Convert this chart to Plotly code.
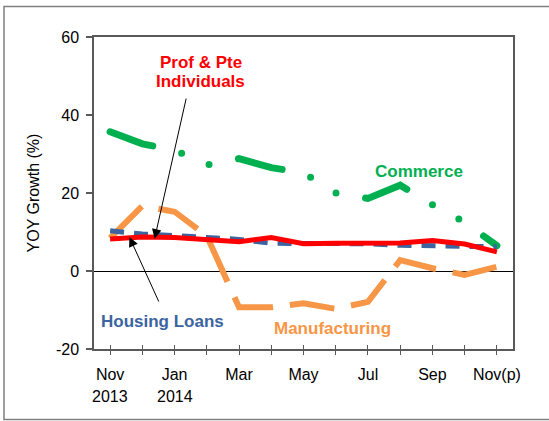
import plotly.graph_objects as go

months = ["Nov 2013", "Dec", "Jan 2014", "Feb", "Mar", "Apr", "May", "Jun", "Jul", "Aug", "Sep", "Oct", "Nov(p)"]
tick_labels = ["Nov", "", "Jan", "", "Mar", "", "May", "", "Jul", "", "Sep", "", "Nov(p)"]
year_labels = {0: "2013", 2: "2014"}
y_ticks = [-20, 0, 20, 40, 60]
y_tick_text = ["-20", "0", "20", "40", "60"]

manufacturing = [8.4, 16.7, 15.2, 9.0, -9.3, -9.3, -8.3, -9.7, -7.9, 2.8, 0.7, -1.0, 1.1]
commerce = [35.7, 32.6, 31.0, 27.2, 28.8, 26.5, 25.2, 20.0, 18.6, 22.0, 17.0, 12.5, 6.5]
housing = [10.3, 9.5, 9.1, 8.7, 8.1, 7.1, 7.1, 7.2, 7.0, 6.6, 6.5, 6.4, 6.2]
prof_pte = [8.2, 8.7, 8.6, 8.2, 7.5, 8.6, 7.0, 7.1, 7.0, 7.2, 7.8, 6.9, 4.9]

x = list(range(len(months)))
FONT = "Liberation Sans, Arial, sans-serif"

C_ORANGE = "#F79646"
C_GREEN = "#00B050"
C_BLUE = "#3B64A0"
C_RED = "#FF0000"

fig = go.Figure()
fig.add_trace(go.Scatter(x=x, y=manufacturing, mode="lines", name="Manufacturing",
                         line=dict(color=C_ORANGE, width=6, dash="45px,17px")))
fig.add_trace(go.Scatter(x=x, y=commerce, mode="lines", name="Commerce",
                         line=dict(color=C_GREEN, width=7, dash="45px,30px,0px,30px,0px,30px")))
fig.add_trace(go.Scatter(x=x, y=housing, mode="lines", name="Housing Loans",
                         line=dict(color=C_BLUE, width=5, dash="14px,10px")))
fig.add_trace(go.Scatter(x=x, y=prof_pte, mode="lines", name="Prof & Pte Individuals",
                         line=dict(color=C_RED, width=5)))

axis_line = "#595959"
fig.update_layout(
    width=549, height=421,
    margin=dict(l=94, r=36, t=37, b=72, autoexpand=False),
    paper_bgcolor="white", plot_bgcolor="white",
    showlegend=False,
    font=dict(family=FONT, size=16, color="black"),
    xaxis=dict(
        range=[-0.5, 12.5], tickmode="array", tickvals=x, ticktext=tick_labels,
        ticks="outside", ticklen=4, tickcolor=axis_line, tickwidth=1,
        showline=True, linecolor=axis_line, linewidth=1.5, mirror=True,
        showgrid=False, zeroline=False, ticklabelstandoff=6, automargin=False,
        tickfont=dict(family=FONT, size=16, color="black"),
    ),
    xaxis2=dict(
        range=[-0.5, 12.5], overlaying="x", anchor="y", side="bottom",
        tickmode="array", tickvals=x, ticks="inside", ticklen=4,
        tickcolor=axis_line, showticklabels=False, showline=False,
        showgrid=False, zeroline=False, automargin=False,
    ),
    yaxis=dict(
        range=[-20, 60], tickmode="array", tickvals=y_ticks, ticktext=y_tick_text,
        ticks="outside", ticklen=6, tickcolor=axis_line, tickwidth=1.5,
        showline=True, linecolor=axis_line, linewidth=1.5, mirror=True,
        showgrid=False, zeroline=True, zerolinecolor="black", zerolinewidth=1,
        ticklabelstandoff=4, automargin=False,
        tickfont=dict(family=FONT, size=16, color="black"),
        title=dict(text="YOY Growth (%)", font=dict(family=FONT, size=16, color="black"), standoff=12),
    ),
)

# dummy trace on xaxis2 so the crossing ticks render
fig.add_trace(go.Scatter(x=[x[0]], y=[None], xaxis="x2", yaxis="y", showlegend=False,
                         hoverinfo="skip", mode="lines"))

# Year labels under month ticks
for i, lab in year_labels.items():
    fig.add_annotation(x=i, y=-0.153, xref="x", yref="paper", text=lab, showarrow=False,
                       font=dict(family=FONT, size=16, color="black"), xanchor="center", yanchor="middle")

bold = dict(family=FONT, size=17)
fig.add_annotation(x=2.81, y=53.5, text="<b>Prof & Pte</b>", showarrow=False,
                   font=dict(**bold, color=C_RED))
fig.add_annotation(x=2.81, y=48.6, text="<b>Individuals</b>", showarrow=False,
                   font=dict(**bold, color=C_RED))
fig.add_annotation(x=9.57, y=25.6, text="<b>Commerce</b>", showarrow=False,
                   font=dict(**bold, color=C_GREEN))
fig.add_annotation(x=1.61, y=-13.0, text="<b>Housing Loans</b>", showarrow=False,
                   font=dict(**bold, color=C_BLUE))
fig.add_annotation(x=6.89, y=-14.7, text="<b>Manufacturing</b>", showarrow=False,
                   font=dict(**bold, color=C_ORANGE))

# Arrows
fig.add_annotation(x=1.38, y=8.3, ax=2.37, ay=44.6, axref="x", ayref="y", xref="x", yref="y",
                   text="", showarrow=True, arrowhead=2, arrowsize=1.9, arrowwidth=1, arrowcolor="black")
fig.add_annotation(x=0.6, y=8.7, ax=1.53, ay=-8.2, axref="x", ayref="y", xref="x", yref="y",
                   text="", showarrow=True, arrowhead=2, arrowsize=1.9, arrowwidth=1, arrowcolor="black")

# Outer chart border
fig.add_shape(type="rect", xref="paper", yref="paper", x0=-0.2148, x1=1.093, y0=-0.226, y1=1.0978,
              line=dict(color="#7F7F7F", width=1.5), layer="below")

post = ("var s=document.createElement('style');"
        "s.textContent='html,body{margin:0;padding:0;} .scatterlayer .trace:nth-child(2) .js-line{stroke-linecap:round;}';"
        "document.head.appendChild(s);")
fig.write_html("out.html", post_script=post, config={"displayModeBar": False})
